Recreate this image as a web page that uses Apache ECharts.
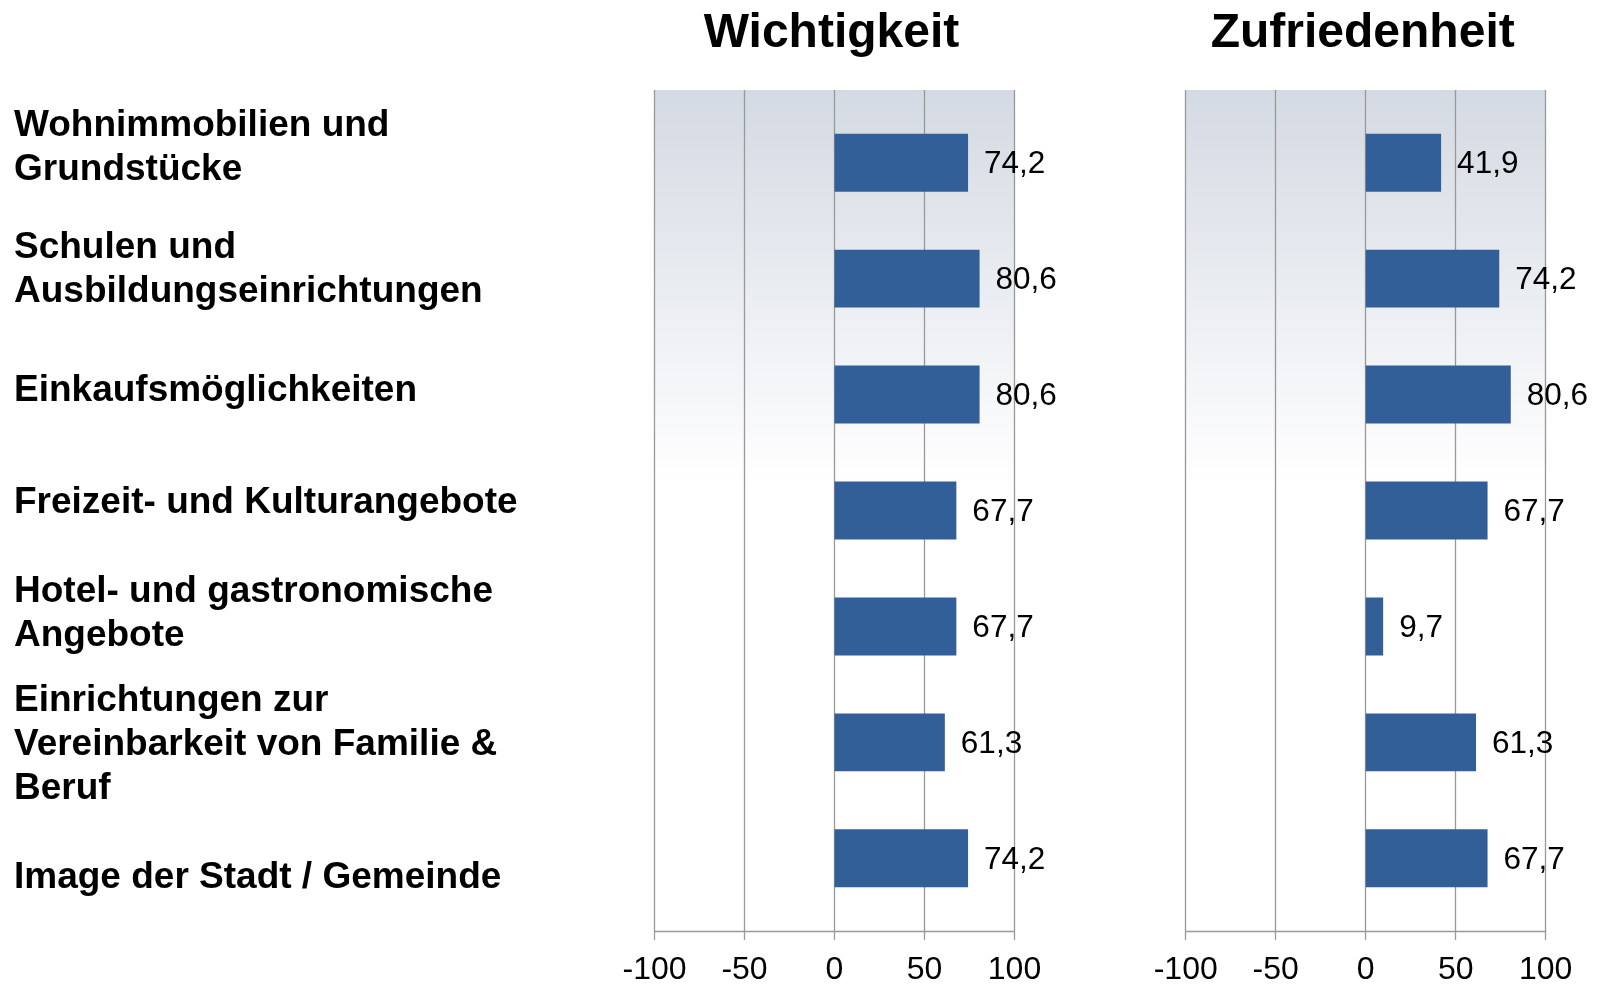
<!DOCTYPE html>
<html>
<head>
<meta charset="utf-8">
<script src="https://cdn.jsdelivr.net/npm/echarts@6/dist/echarts.min.js"></script>
<style>
html,body{margin:0;padding:0;background:#fff;}
#chart{width:1604px;height:985px;}
</style>
</head>
<body>
<div id="chart"></div>
<script>
const categories = [
  "Wohnimmobilien und\nGrundstücke",
  "Schulen und\nAusbildungseinrichtungen",
  "Einkaufsmöglichkeiten",
  "Freizeit- und Kulturangebote",
  "Hotel- und gastronomische\nAngebote",
  "Einrichtungen zur\nVereinbarkeit von Familie &\nBeruf",
  "Image der Stadt / Gemeinde"
];
const panelTitles = ["Wichtigkeit", "Zufriedenheit"];
const wichtigkeit = [74.2, 80.6, 80.6, 67.7, 67.7, 61.3, 74.2];
const zufriedenheit = [41.9, 74.2, 80.6, 67.7, 9.7, 61.3, 67.7];
const xTicks = { min: -100, max: 100, interval: 50 };

// style only: vertical nudge of each category label (px, negative = up)
const labelNudge = [-2, 0, 0, -8, -17, -6, 7];

const FONT = "'Liberation Sans', Arial, Helvetica, sans-serif";
const GRID_COLOR = '#999999';
const BAR_COLOR = '#335f99';

const bgGradient = {
  type: 'linear', x: 0, y: 0, x2: 0, y2: 1,
  colorStops: [
    { offset: 0, color: '#d4dae3' },
    { offset: 0.47, color: '#ffffff' },
    { offset: 1, color: '#ffffff' }
  ]
};

const spacerRich = {};
labelNudge.forEach((n, i) => {
  spacerRich['sp' + i] = { fontSize: 1, lineHeight: Math.max(1, 2 * Math.abs(n)), height: Math.max(1, 2 * Math.abs(n)) };
});
function catFormatter(val, idx) {
  const n = labelNudge[idx] || 0;
  if (n === 0) return val;
  const sp = '{sp' + idx + '| }';
  return n < 0 ? val + '\n' + sp : sp + '\n' + val;
}

const panels = [
  { left: 654.5, values: wichtigkeit, showCats: true, title: panelTitles[0] },
  { left: 1185.7, values: zufriedenheit, showCats: false, title: panelTitles[1] }
];
const PW = 360;

const grid = [], xAxis = [], yAxis = [], series = [], title = [];
panels.forEach((p, i) => {
  grid.push({ left: p.left, width: PW, top: 90, height: 841, show: true, backgroundColor: bgGradient, borderWidth: 0, containLabel: false, outerBoundsMode: 'none' });
  grid.push({ left: p.left, width: PW, top: 104.7, height: 811.6, show: false, containLabel: false, outerBoundsMode: 'none' });
  const gBg = i * 2, gBar = i * 2 + 1;
  xAxis.push({
    gridIndex: gBg, type: 'value', min: xTicks.min, max: xTicks.max, interval: xTicks.interval,
    splitLine: { show: true, lineStyle: { color: GRID_COLOR, width: 1.3 } },
    axisLine: { show: true, onZero: false, lineStyle: { color: GRID_COLOR, width: 1.3 } },
    axisTick: { show: true, length: 9, lineStyle: { color: GRID_COLOR, width: 1.3 } },
    axisLabel: { show: true, fontSize: 32, color: '#000', fontFamily: FONT, margin: 23, showMinLabel: true, showMaxLabel: true, hideOverlap: false }
  });
  xAxis.push({
    gridIndex: gBar, type: 'value', min: xTicks.min, max: xTicks.max, interval: xTicks.interval, show: false
  });
  yAxis.push({
    gridIndex: gBg, type: 'category', data: categories, inverse: true,
    axisLine: { show: false }, axisTick: { show: false }, splitLine: { show: false },
    axisLabel: {
      show: p.showCats, align: 'left', margin: p.left - 14, fontSize: 37, fontWeight: 'bold',
      lineHeight: 44, color: '#000', fontFamily: FONT, interval: 0,
      formatter: catFormatter, rich: spacerRich
    }
  });
  yAxis.push({
    gridIndex: gBar, type: 'category', data: categories, inverse: true, show: false
  });
  series.push({
    type: 'bar', xAxisIndex: i * 2 + 1, yAxisIndex: i * 2 + 1,
    data: p.values, barWidth: '50%',
    itemStyle: { color: BAR_COLOR },
    label: {
      show: true, position: 'right', distance: 16, offset: [0, 2], fontSize: 31.5, color: '#000', fontFamily: FONT,
      formatter: (d) => d.value.toFixed(1).replace('.', ',')
    },
    silent: true, animation: false
  });
  title.push({
    text: p.title, left: p.left + PW / 2 - 8, textAlign: 'center', top: 5,
    textStyle: { fontSize: 48, fontWeight: 'bold', color: '#000', fontFamily: FONT }
  });
});

const chart = echarts.init(document.getElementById('chart'), null, { renderer: 'canvas' });
chart.setOption({ animation: false, title, grid, xAxis, yAxis, series });
</script>
</body>
</html>
